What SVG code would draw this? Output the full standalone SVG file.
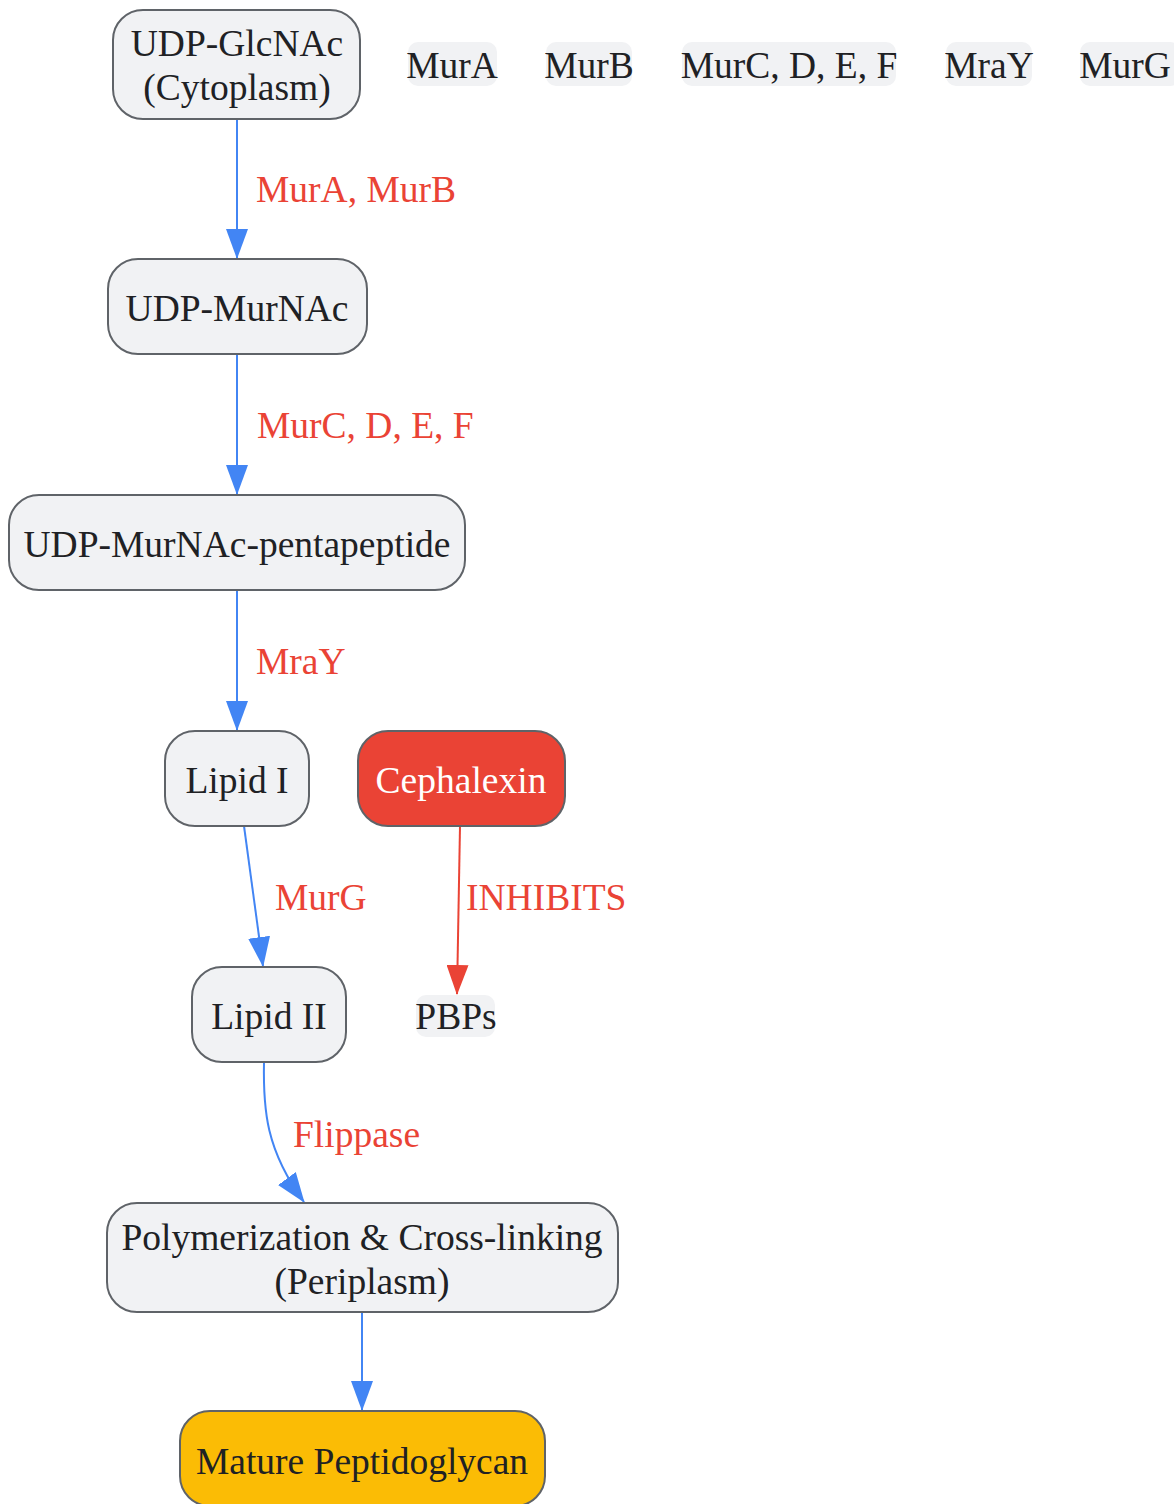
<svg xmlns="http://www.w3.org/2000/svg" width="1174" height="1504" viewBox="0 0 1174 1504">
<defs>
<style>
.n{fill:#F1F2F4;stroke:#5F6368;stroke-width:2}
.t{font-family:"Liberation Serif",serif;font-size:37.5px;fill:#202124;text-anchor:middle}
.tw{fill:#FFFFFF}
.lbl{font-family:"Liberation Serif",serif;font-size:37.5px;fill:#EA4335}
.lb{fill:#F1F2F4}
.e{fill:none;stroke:#4285F4;stroke-width:2}
.er{fill:none;stroke:#EA4335;stroke-width:2}
</style>
<marker id="ab" markerUnits="userSpaceOnUse" markerWidth="30" markerHeight="22" viewBox="0 0 30 22" refX="29" refY="11" orient="auto"><path d="M0,0 L30,11 L0,22 z" fill="#4285F4"/></marker>
<marker id="ar" markerUnits="userSpaceOnUse" markerWidth="30" markerHeight="22" viewBox="0 0 30 22" refX="29" refY="11" orient="auto"><path d="M0,0 L30,11 L0,22 z" fill="#EA4335"/></marker>
</defs>
<rect width="1174" height="1504" fill="#FFFFFF"/>
<g id="edges">
<path class="e" d="M237,119 L237,258" marker-end="url(#ab)"/>
<path class="e" d="M237,354 L237,494" marker-end="url(#ab)"/>
<path class="e" d="M237,590 L237,730" marker-end="url(#ab)"/>
<path class="e" d="M244,826 L263,966" marker-end="url(#ab)"/>
<path class="er" d="M460,826 L457,994" marker-end="url(#ar)"/>
<path class="e" d="M264,1062 C263,1110 266,1150 304,1202" marker-end="url(#ab)"/>
<path class="e" d="M362,1312 L362,1410" marker-end="url(#ab)"/>
<text class="lbl" x="256" y="202">MurA, MurB</text>
<text class="lbl" x="257" y="438">MurC, D, E, F</text>
<text class="lbl" x="256" y="674">MraY</text>
<text class="lbl" x="275" y="910">MurG</text>
<text class="lbl" x="466" y="910">INHIBITS</text>
<text class="lbl" x="293" y="1147">Flippase</text>
</g>
<g id="n-glcnac"><rect class="n" x="113" y="10" width="247" height="109" rx="30"/><text class="t" x="237" y="56">UDP-GlcNAc</text><text class="t" x="237" y="100">(Cytoplasm)</text></g>
<g id="n-murnac"><rect class="n" x="108" y="259" width="259" height="95" rx="30"/><text class="t" x="237" y="321">UDP-MurNAc</text></g>
<g id="n-penta"><rect class="n" x="9" y="495" width="456" height="95" rx="30"/><text class="t" x="237" y="557">UDP-MurNAc-pentapeptide</text></g>
<g id="n-lipid1"><rect class="n" x="165" y="731" width="144" height="95" rx="30"/><text class="t" x="237" y="793">Lipid I</text></g>
<g id="n-ceph"><rect class="n" style="fill:#EA4335" x="358" y="731" width="207" height="95" rx="30"/><text class="t tw" x="461" y="793">Cephalexin</text></g>
<g id="n-lipid2"><rect class="n" x="192" y="967" width="154" height="95" rx="30"/><text class="t" x="269" y="1029">Lipid II</text></g>
<g id="n-pbps"><rect class="lb" x="416" y="995" width="79" height="42" rx="10"/><text class="t" x="456" y="1029">PBPs</text></g>
<g id="n-poly"><rect class="n" x="107" y="1203" width="511" height="109" rx="30"/><text class="t" x="362" y="1250">Polymerization &amp; Cross-linking</text><text class="t" x="362" y="1294">(Periplasm)</text></g>
<g id="n-mature"><rect class="n" style="fill:#FBBC05" x="180" y="1411" width="365" height="95" rx="30"/><text class="t" x="362" y="1474">Mature Peptidoglycan</text></g>
<g id="n-mura"><rect class="lb" x="408" y="42" width="89" height="44" rx="10"/><text class="t" x="452" y="78">MurA</text></g>
<g id="n-murb"><rect class="lb" x="546" y="42" width="86" height="44" rx="10"/><text class="t" x="589" y="78">MurB</text></g>
<g id="n-murcdef"><rect class="lb" x="682" y="42" width="214" height="44" rx="10"/><text class="t" x="789" y="78">MurC, D, E, F</text></g>
<g id="n-mray"><rect class="lb" x="946" y="42" width="86" height="44" rx="10"/><text class="t" x="989" y="78">MraY</text></g>
<g id="n-murg"><rect class="lb" x="1080" y="42" width="100" height="44" rx="10"/><text class="t" x="1125" y="78">MurG</text></g>
</svg>
